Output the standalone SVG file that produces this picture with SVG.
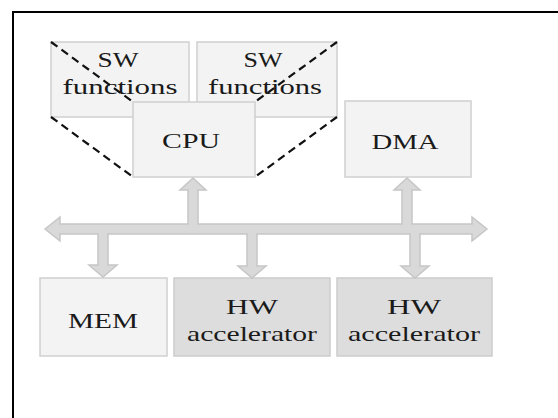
<svg xmlns="http://www.w3.org/2000/svg" width="558" height="418" viewBox="0 0 558 418">
<style>
.box{fill:#f3f3f3;stroke:#d0d0d0;stroke-width:1.5}
.hw{fill:#dddddd;stroke:#cccccc;stroke-width:1.5}
.t{font-family:"Liberation Serif","DejaVu Serif",serif;font-size:22px;fill:#1a1a1a;text-anchor:middle}
.dash{stroke:#111;stroke-width:2.2;stroke-dasharray:8,5;fill:none}
.bus{fill:#d9d9d9;stroke:#c6c6c6;stroke-width:1.5;stroke-linejoin:miter}
</style>
<rect x="0" y="0" width="558" height="418" fill="#ffffff"/>
<rect x="13" y="12" width="600" height="500" fill="none" stroke="#000" stroke-width="2"/>
<g id="sw1">
<rect class="box" x="51" y="42" width="138" height="75"/>
<text class="t" x="118" y="67" textLength="41" lengthAdjust="spacingAndGlyphs">SW</text>
<text class="t" x="120" y="94" textLength="115" lengthAdjust="spacingAndGlyphs">functions</text>
</g>
<g id="sw2">
<rect class="box" x="197" y="42" width="140" height="75"/>
<text class="t" x="263" y="67" textLength="39" lengthAdjust="spacingAndGlyphs">SW</text>
<text class="t" x="265" y="94" textLength="114" lengthAdjust="spacingAndGlyphs">functions</text>
</g>
<g id="cpu">
<rect class="box" x="133" y="102" width="122" height="75"/>
<text class="t" x="191" y="148" textLength="58" lengthAdjust="spacingAndGlyphs">CPU</text>
</g>
<g id="dma">
<rect class="box" x="345" y="101" width="126" height="76"/>
<text class="t" x="405" y="149" textLength="67" lengthAdjust="spacingAndGlyphs">DMA</text>
</g>
<g id="mem">
<rect class="box" x="40" y="278" width="127" height="78"/>
<text class="t" x="103" y="328" textLength="70" lengthAdjust="spacingAndGlyphs">MEM</text>
</g>
<g id="hw1">
<rect class="hw" x="174" y="278" width="156" height="78"/>
<text class="t" x="252" y="314" textLength="52" lengthAdjust="spacingAndGlyphs">HW</text>
<text class="t" x="252" y="341" textLength="130" lengthAdjust="spacingAndGlyphs">accelerator</text>
</g>
<g id="hw2">
<rect class="hw" x="337" y="278" width="155" height="78"/>
<text class="t" x="414" y="314" textLength="54" lengthAdjust="spacingAndGlyphs">HW</text>
<text class="t" x="414" y="341" textLength="132" lengthAdjust="spacingAndGlyphs">accelerator</text>
</g>
<g id="connectors">
<line class="dash" x1="51" y1="42" x2="133" y2="102"/>
<line class="dash" x1="51" y1="117" x2="133" y2="177"/>
<line class="dash" x1="337" y1="42" x2="255" y2="102"/>
<line class="dash" x1="337" y1="117" x2="255" y2="177"/>
<polygon class="bus" points="45,229 60,217 60,224 188,224 188,190 180,190 193,178 206,190 198,190 198,224 402,224 402,190 394,190 407,178 420,190 412,190 412,224 472,224 472,217 487,229 472,241 472,234 420,234 420,266 429,266 415,278 401,266 410,266 410,234 257,234 257,266 266,266 252,278 238,266 247,266 247,234 108,234 108,265 117,265 103,277 89,265 98,265 98,234 60,234 60,241"/>
</g>
</svg>
